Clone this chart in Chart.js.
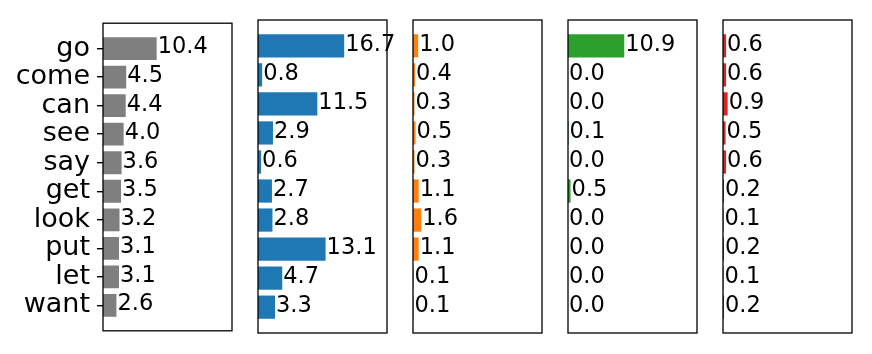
<!DOCTYPE html>
<html>
<head>
<meta charset="utf-8">
<script src="https://cdn.jsdelivr.net/npm/chart.js@4"></script>
<style>
  html, body { margin: 0; padding: 0; background: #fff; }
  #wrap { position: relative; width: 872px; height: 354px; overflow: hidden; }
  #wrap canvas { position: absolute; top: 0; }
</style>
</head>
<body>
<div id="wrap"></div>
<script>
// categories (top to bottom)
const words = ["go", "come", "can", "see", "say", "get", "look", "put", "let", "want"];

// one series per panel
const grayVals   = [10.4, 4.5, 4.4, 4.0, 3.6, 3.5, 3.2, 3.1, 3.1, 2.6];
const blueVals   = [16.7, 0.8, 11.5, 2.9, 0.6, 2.7, 2.8, 13.1, 4.7, 3.3];
const orangeVals = [1.0, 0.4, 0.3, 0.5, 0.3, 1.1, 1.6, 1.1, 0.1, 0.1];
const greenVals  = [10.9, 0.0, 0.0, 0.1, 0.0, 0.5, 0.0, 0.0, 0.0, 0.0];
const redVals    = [0.6, 0.6, 0.9, 0.5, 0.6, 0.2, 0.1, 0.2, 0.1, 0.2];

const xMax = 25;
const font = "'DejaVu Sans', sans-serif";

const panels = [
    { values: grayVals,   color: "#7f7f7f", left: 0 },
    { values: blueVals,   color: "#1f77b4", left: 253 },
    { values: orangeVals, color: "#ff7f0e", left: 408 },
    { values: greenVals,  color: "#2ca02c", left: 563 },
    { values: redVals,    color: "#d62728", left: 718 }
];

// black box round the plot area
const frame = {
    id: "frame",
    afterDraw(chart) {
        const { ctx, chartArea: a } = chart;
        ctx.save();
        ctx.strokeStyle = "#000";
        ctx.lineWidth = 1.3;
        ctx.strokeRect(a.left, a.top, a.right - a.left, a.bottom - a.top);
        ctx.restore();
    }
};

// value written at the end of each bar
const barText = {
    id: "barText",
    afterDatasetsDraw(chart) {
        const ctx = chart.ctx;
        const meta = chart.getDatasetMeta(0);
        const data = chart.data.datasets[0].data;
        ctx.save();
        ctx.font = "22.5px " + font;
        ctx.fillStyle = "#000";
        ctx.textAlign = "left";
        ctx.textBaseline = "middle";
        meta.data.forEach((bar, i) => {
            ctx.fillText(data[i].x.toFixed(1), bar.x + 1, bar.y - 1);
        });
        ctx.restore();
    }
};

const wrap = document.getElementById("wrap");

panels.forEach((p, k) => {
    const first = k === 0;
    const canvas = document.createElement("canvas");
    canvas.width = first ? 250 : 155;
    canvas.height = 354;
    canvas.style.left = p.left + "px";
    wrap.appendChild(canvas);

    const yScale = {
        type: "linear",
        reverse: true,
        min: -0.89,
        max: 9.89,
        bounds: "data",
        offset: false,
        display: first,
        afterBuildTicks: (s) => { s.ticks = words.map((w, i) => ({ value: i })); },
        ticks: {
            callback: (v) => words[v],
            autoSkip: false,
            color: "#000",
            padding: 7,
            font: { family: font, size: 27 }
        },
        grid: { drawOnChartArea: false, offset: false, tickLength: 6, color: "#000", lineWidth: 1.4 },
        border: { display: false }
    };
    if (first) yScale.afterFit = (s) => { s.width = 103; };

    new Chart(canvas, {
        type: "bar",
        data: {
            datasets: [{
                data: p.values.map((v, i) => ({ x: v, y: i })),
                backgroundColor: p.color,
                barPercentage: 0.8,
                categoryPercentage: 1
            }]
        },
        options: {
            indexAxis: "y",
            responsive: false,
            animation: false,
            layout: {
                padding: first
                    ? { top: 20, bottom: 21, left: 0, right: 18 }
                    : { top: 20, bottom: 21, left: 5, right: 21 }
            },
            plugins: {
                legend: { display: false },
                tooltip: { enabled: false }
            },
            scales: {
                x: { type: "linear", display: false, min: 0, max: xMax },
                y: yScale
            }
        },
        plugins: [frame, barText]
    });
});
</script>
</body>
</html>
